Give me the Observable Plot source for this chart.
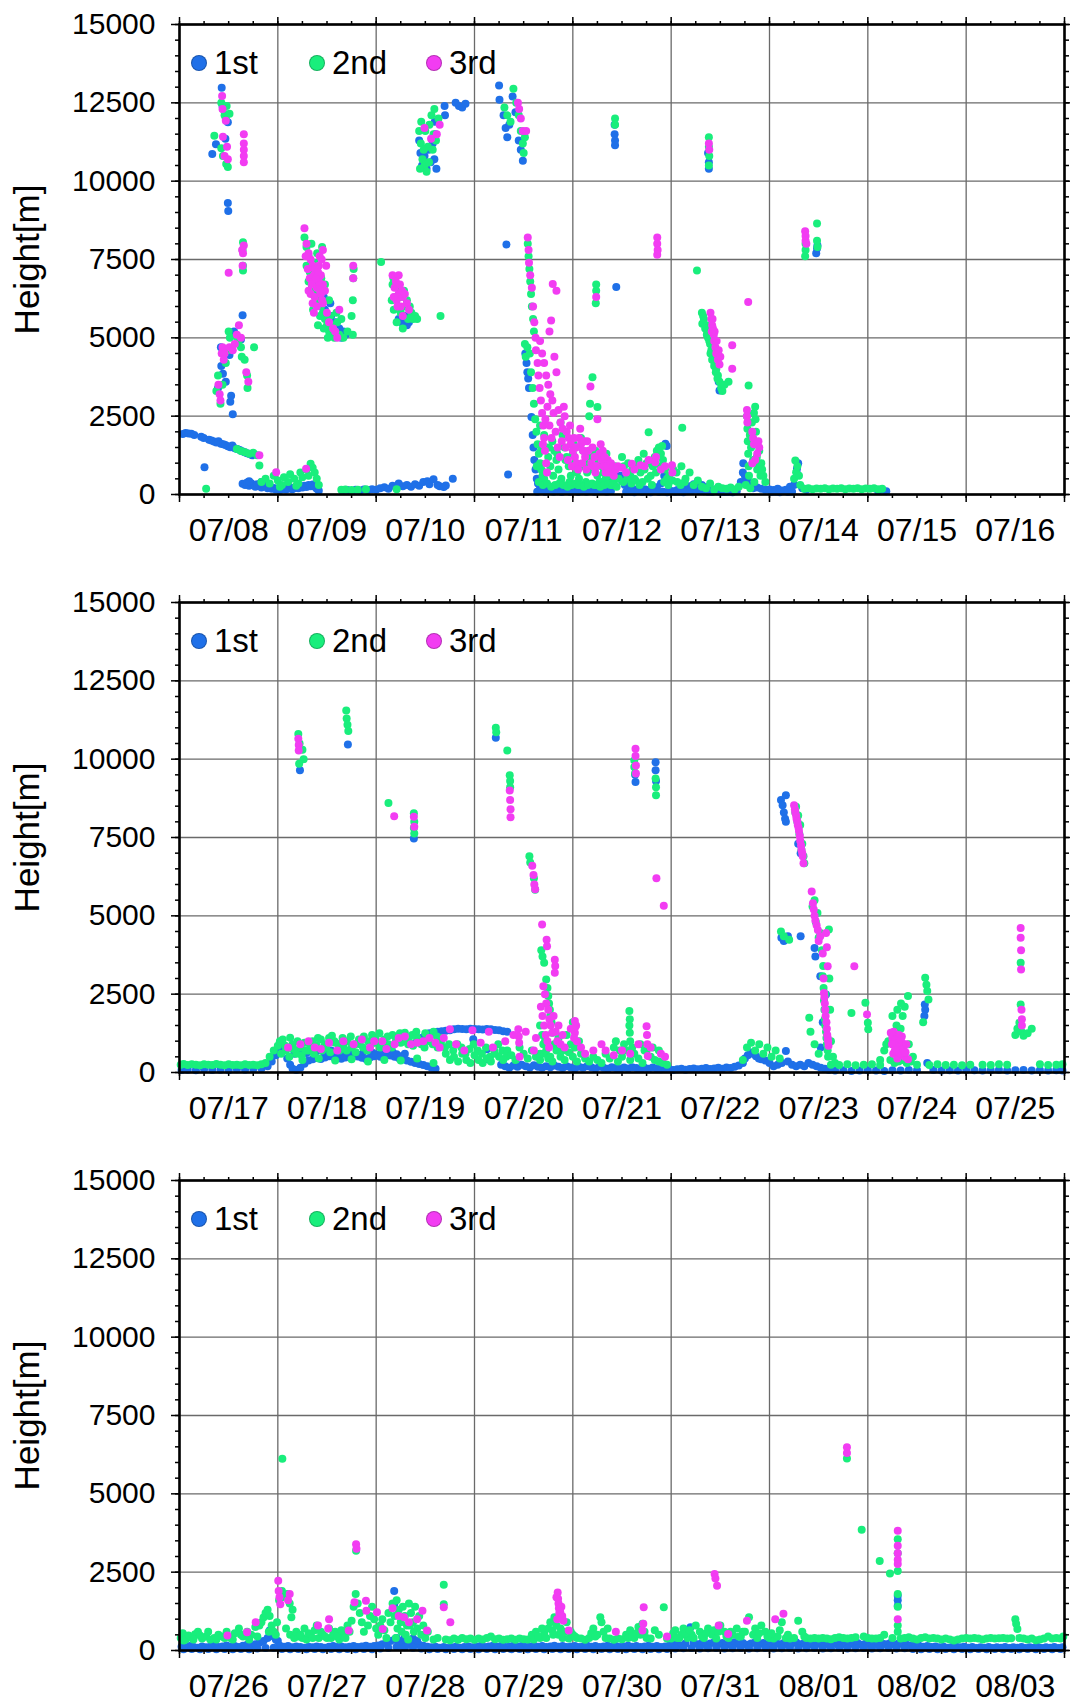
<!DOCTYPE html>
<html><head><meta charset="utf-8">
<script src="https://cdn.jsdelivr.net/npm/d3@7"></script>
<script src="https://cdn.jsdelivr.net/npm/@observablehq/plot@0.6"></script>
<style>
html,body{margin:0;padding:0;background:#fff;}
body{font-family:"Liberation Sans",Arial,Helvetica,sans-serif;}
.panel{position:relative;width:1070px;}
.panel svg{display:block;}
.leg{position:absolute;display:flex;align-items:center;font-size:33px;color:#000;line-height:1;}
.leg .sw{width:16px;height:16px;border-radius:50%;margin-right:7px;box-sizing:border-box;border:1px solid rgba(0,0,0,0.25);}
</style></head><body><div id="root"></div>
<script>
// ---------- categories / labels ----------
const seriesNames = ["1st", "2nd", "3rd"];
const seriesColors = ["#1f70e8", "#19ee7c", "#f23cf2"];
const panelStarts = ["2019-07-08T00:00:00Z", "2019-07-17T00:00:00Z", "2019-07-26T00:00:00Z"];
const yMajorTicks = [0, 2500, 5000, 7500, 10000, 12500, 15000];
const yMinorTicks = d3.range(0, 15001, 500);
const yLabel = "Height[m]";

// ---------- data: [hours since panel start, height m] ----------
// Panel 1 (07/08 - 07/16)
const p1First = [
[0.8,1930],[1.5,1960],[2.2,1950],[2.9,1940],[3.6,1900],[5.3,1840],[5.9,1800],[6.1,870],[7.2,1750],[7.8,1720],[8.4,1690],[9.0,1660],[9.5,1700],[10.1,1620],[10.7,1600],[11.2,1580],[11.8,1540],[12.4,1510],[12.9,1560],[13.5,1480],[14.1,1450],[14.7,1420],[15.3,1380],[15.9,1350],[16.5,1320],[17.1,1290],[17.7,1250],
[8.0,10870],[8.9,11180],[10.3,12980],[10.5,12400],[11.2,11350],[11.8,11880],[11.8,9300],[11.9,9050],
[9.4,3400],[10.1,4700],[10.2,4100],[10.6,3850],[11.3,3600],[12.4,2960],[12.6,3150],[13.0,2560],[12.2,4450],[13.3,5200],[15.4,5720],[15.0,4950],
[15.4,340],[16.0,300],[16.5,380],[17.0,280],[17.5,360],[18.0,310],[18.5,250],[19.0,330],[19.5,280],[20.0,220],[20.5,300],[21.0,260],[21.5,200],[22.0,240],[22.5,180],[23.0,210],[23.5,160],[24.0,190],[24.5,140],[25.0,170],[25.5,220],[26.0,160],[26.5,190],[27.0,230],[27.5,170],[28.0,200],[28.5,250],[29.0,200],[29.5,260],[30.0,220],[30.5,280],[31.0,240],[31.5,300],[32.0,260],[32.5,320],[33.0,250],[33.5,180],[34.0,120],[17.0,420],[20.0,400],
[39.8,120],[41.0,140],[42.0,110],[43.0,150],[44.0,130],[45.0,160],[46.0,140],[47.0,170],[48.0,150],[49.0,200],[50.0,230],[51.0,180],[52.0,280],[53.0,250],[53.5,350],[54.5,260],[55.5,300],[56.5,250],[57.5,330],[58.5,280],[59.5,400],[60.5,420],[61.0,330],[62.0,490],[63.0,300],[63.5,260],[64.5,240],[65.0,290],[66.7,500],
[35.5,5900],[36.0,5600],[36.5,5400],[37.0,5700],[37.5,5300],[38.0,5500],[38.5,5100],[39.0,5300],[39.5,5000],[40.0,5200],[36.8,6100],[35.2,6300],[34.8,6600],[40.5,5100],
[53.5,5600],[54.5,5450],[55.0,5700],[56.0,5500],[56.8,5650],[55.5,5400],
[58.5,11300],[58.8,10900],[59.2,10500],[59.8,10800],[60.3,10400],[60.8,11000],[61.3,10600],[61.8,11200],[62.2,10700],[62.5,11500],[62.7,10400],[62.3,11900],[64.7,12400],[64.8,12100],[67.4,12500],[68.2,12400],[69.0,12350],[69.8,12470],
[78.0,13050],[78.1,12600],[79.1,12100],[79.6,11700],[80.0,11400],[80.5,11800],[81.3,12700],[82.0,12200],[82.8,11300],[83.3,11000],[83.8,10650],[79.8,7980],[80.2,640],
[84.4,4500],[84.7,4200],[84.9,3900],[85.1,3700],[85.3,3400],[85.9,2470],[86.2,1900],[86.4,1500],[86.6,1100],[86.9,800],[87.2,500],
[87.5,350],[88.0,250],[88.5,300],[89.0,200],[89.5,280],[90.0,180],[90.5,250],[91.0,160],[91.5,230],[92.0,200],[92.5,150],[93.0,220],[93.5,180],[94.0,250],[94.5,150],[95.0,200],[95.5,170],[96.0,230],[96.5,150],[97.0,190],[97.5,260],[98.0,140],[98.5,200],[99.0,170],[99.5,240],[100.0,160],[100.5,210],[101.0,130],[101.5,180],[102.0,150],[102.5,220],[103.0,170],[103.5,120],
[87.3,90],[88.3,110],[89.3,80],[90.3,120],[91.3,90],[92.3,100],[93.3,80],[94.3,110],[95.3,90],[96.3,120],[97.3,80],[98.3,100],[99.3,90],[100.3,110],[101.3,80],[102.3,100],[103.3,120],[104.3,90],[105.3,110],
[106.2,11800],[106.2,11500],[106.3,11300],[106.3,11150],[106.6,6620],
[104.5,300],[105.5,450],[106.5,550],[107.5,600],[108.0,450],[108.7,300],[109.5,150],[110.5,120],[111.5,160],[112.5,130],[113.5,170],[114.5,140],[115.5,200],[116.5,230],[117.5,350],[118.3,600],[118.6,1620],[118.9,1550],
[109.0,80],[110.0,90],[111.0,70],[112.0,100],[113.0,80],[114.0,90],[115.0,70],[116.0,100],[117.0,80],[118.0,90],[119.0,70],[120.0,100],[121.0,80],[122.0,90],[123.0,70],[124.0,100],[125.0,130],[126.0,150],[127.0,120],[128.0,100],[129.0,90],[130.0,80],[131.0,100],[132.0,70],[133.0,80],[134.0,90],[135.0,70],[136.0,100],
[119.5,120],[120.5,100],[121.5,140],[122.5,120],[123.5,180],[124.5,260],[125.5,330],[126.5,380],[127.5,300],[128.5,230],[129.5,190],[130.5,160],[131.5,120],[132.5,100],[133.5,90],
[129.2,10400],[129.2,10600],[129.0,10900],[131.8,3320],[131.6,3600],
[137.0,400],[137.5,700],[137.6,1000],[138.0,600],[138.6,500],[139.0,300],[139.5,250],[140.0,200],[141.0,220],[142.0,180],[143.0,150],[144.0,160],[145.0,140],[146.0,180],[147.0,130],[148.0,150],
[144.5,80],[145.5,90],[146.5,70],[147.5,100],[148.5,80],[149.5,90],[150.0,300],[149.0,250],
[150.7,820],[150.8,650],[151.0,1000],[155.4,7700],[155.6,7850],[155.7,7950],[152.0,200],[153.0,150],
[170.5,120],[171.5,150],[172.5,100]
];
const p1Second = [
[6.5,180],
[8.5,11450],[10.2,12500],[10.6,12300],[11.0,12100],[11.3,12000],[12.2,12150],[11.8,10450],[11.4,10550],[10.2,11050],[10.6,10800],[11.5,12400],
[15.5,8050],[15.4,7800],[15.5,7300],[15.5,7150],
[9.0,3300],[9.4,3800],[10.0,2900],[10.5,3500],[11.3,4200],[12.0,5200],[12.3,5000],[11.8,4600],[15.0,4700],[15.2,4400],[15.9,4300],[16.5,3800],[16.6,3400],[18.2,4700],[14.4,4900],[13.8,5050],
[14.0,1450],[15.0,1390],[16.0,1350],[17.0,1300],[18.0,1330],[19.0,1250],[19.5,925],
[20.0,400],[21.0,500],[22.0,350],[23.0,600],[24.0,450],[25.0,300],[25.5,550],[26.5,400],[27.0,650],[28.0,500],[29.0,350],[29.5,700],[30.0,550],[31.0,800],[31.5,600],[32.0,980],[32.5,850],[33.0,700],[33.5,500],[34.0,300],[24.5,250],[28.5,280],
[30.5,8200],[31.0,7900],[31.5,7600],[32.0,7300],[32.5,7000],[33.0,6800],[33.5,6500],[34.0,6300],[34.5,6000],[35.0,5800],[35.5,5600],[36.0,5400],[36.5,5200],[37.0,5100],[38.0,5200],[38.5,5500],[39.5,5600],[42.0,5700],[42.3,6200],[42.4,6900],[42.5,7200],[34.8,7900],[33.0,7400],[35.5,6700],[36.5,6200],[31.5,6800],[33.8,5400],[32.6,5900],
[31.0,7300],[31.8,7100],[32.3,6600],[33.3,6100],[34.3,5700],[35.2,5300],[36.2,5000],[37.2,5400],[38.3,5800],[34.6,6900],[33.6,7700],[32.2,8000],[36.8,5700],[37.8,5000],[39.0,5100],[40.0,5000],[41.0,5200],[42.3,5100],
[49.2,7420],
[52.0,6700],[52.6,6300],[53.3,6000],[54.0,5800],[55.0,6000],[55.8,5600],[56.6,5800],[57.5,5700],[53.0,5500],[54.5,5300],[63.7,5700],
[51.8,6200],[52.3,5900],[53.8,6300],[54.8,6500],[55.5,6200],[56.2,6000],[57.0,5600],[52.2,6900],[53.2,6600],[58.0,5600],
[58.5,11600],[58.9,11200],[59.3,10700],[59.8,10500],[60.3,10300],[60.6,11100],[61.0,11800],[61.5,12100],[62.0,11500],[62.6,11300],[63.2,12000],
[58.7,10400],[59.6,11000],[60.0,11600],[60.9,10600],[61.8,11000],[62.2,12300],[59.0,11900],
[39.5,150],[40.5,160],[42.0,140],[43.5,150],[45.5,170],[53.0,170],
[79.3,12350],[80.0,12100],[80.8,11900],[81.5,12950],[82.2,12500],[82.8,12100],[83.3,11600],[83.8,11200],[84.0,10900],[84.3,11400],
[85.0,8000],[85.2,7600],[85.4,7200],[85.6,6800],[85.8,6400],[86.0,6000],[86.3,5600],[86.5,5200],[84.3,4800],[84.5,4400],[84.9,4700],[85.5,4500],[85.8,3900],[86.2,3400],[86.5,2900],[86.8,2400],[87.1,2000],[87.4,1600],[87.7,1300],[88.0,1000],[88.3,800],[88.6,600],[89.0,500],
[88.0,2200],[89.0,1900],[89.5,1500],[90.0,1200],[90.5,900],[91.0,1700],[91.5,1400],[92.0,1100],[92.5,800],[93.0,2300],[93.5,1900],[94.0,1500],[94.5,1200],[95.0,900],[95.5,600],[96.0,1300],[96.5,1000],[97.0,700],[97.5,500],[98.0,1800],[98.5,1400],[99.0,1000],[99.5,700],[100.0,2500],[100.2,2900],[100.5,1200],[101.0,800],[101.5,1400],[102.0,600],[102.5,400],[103.0,900],[103.5,700],[104.0,500],[104.5,1000],[105.0,800],[105.5,600],[106.0,400],
[87.2,900],[88.2,1400],[89.2,700],[90.2,1500],[91.2,600],[92.2,1300],[93.2,500],[94.2,1100],[95.2,400],[96.2,1600],[97.2,300],[98.2,900],[99.2,400],[100.2,1300],[101.2,300],[102.2,1100],[103.2,400],[104.2,1300],[105.2,300],[106.2,900],[107.2,500],
[87.7,400],[88.7,300],[89.7,350],[90.7,250],[91.7,300],[92.7,350],[93.7,300],[94.7,250],[95.7,300],[96.7,350],[97.7,300],[98.7,250],[99.7,300],[100.7,350],[101.7,300],[102.7,250],[103.7,300],[104.7,350],[105.7,300],[106.7,250],
[106.3,12000],[106.3,11800],[101.6,6100],[101.7,6500],[101.7,6700],[102.0,2790],[100.8,3740],
[108.0,1200],[108.5,900],[109.0,700],[109.5,1000],[110.0,600],[110.5,800],[111.0,500],[111.5,900],[112.0,1100],[112.5,700],[113.0,400],[113.5,800],[114.0,1000],[114.5,1990],[115.0,600],[115.5,900],[116.0,1200],[116.5,1400],[117.0,1500],[117.5,1300],[118.0,1100],[118.5,800],[119.0,500],[117.8,1550],
[108.3,400],[109.3,500],[110.3,350],[111.3,450],[112.3,300],[113.3,1300],[114.3,500],[115.3,300],[116.3,700],[117.3,900],[118.3,400],[119.3,300],[120.3,450],[121.3,700],[122.3,300],[123.3,400],
[119.5,600],[120.5,800],[121.5,400],[122.5,900],[123.5,500],[124.5,700],[125.5,300],[126.5,450],[127.5,250],[128.5,200],[129.5,350],[130.5,150],[131.5,250],[132.5,200],[133.5,180],[134.5,220],[135.5,160],[136.5,250],
[122.7,2130],[126.3,7150],[129.2,11400],[129.2,11100],[129.3,10800],[129.2,10500],
[127.5,5800],[128.0,5600],[128.5,5400],[128.8,5200],[129.0,5000],[129.5,4800],[129.8,4600],[130.2,4400],[130.6,4200],[131.0,4000],[131.4,3800],[131.8,3600],[132.2,3400],[134.0,3600],[130.3,5000],[127.6,5450],
[127.8,5700],[128.3,5300],[128.7,5100],[129.3,4900],[129.6,4500],[130.0,4300],[130.5,4100],[130.9,3900],[131.3,3700],[132.5,3300],[133.0,3500],
[138.9,3480],
[138.5,2500],[138.6,2100],[138.7,1700],[138.8,1300],[138.9,900],[139.0,600],[140.5,2800],[140.6,2400],[140.7,2000],[140.8,1600],[140.9,1200],[141.0,800],[141.5,1400],[142.0,1000],[142.5,600],[143.0,400],[139.5,1500],[140.0,1100],
[139.2,1900],[139.7,2300],[140.2,2600],[141.2,1000],[141.8,600],[142.2,800],[138.2,300],[139.3,200],[140.3,400],
[150.3,1085],[150.5,710],[150.0,500],[150.8,900],[151.2,600],
[151.5,300],[152.5,180],[153.5,200],[154.5,170],[155.5,190],[156.5,180],[157.5,200],[158.5,170],[159.5,190],[160.5,180],[161.5,200],[162.5,170],[163.5,190],[164.5,180],[165.5,200],[166.5,170],[167.5,190],[168.5,180],[169.5,200],[170.5,170],[171.5,180],
[152.7,7600],[152.8,7800],[152.8,8000],[155.6,8650],[155.7,7900],[155.6,8100]
];
const p1Third = [
[10.4,12720],[10.5,12300],[10.6,11420],[11.3,11930],[11.0,10800],[11.8,10700],[15.7,11500],[15.7,11200],[15.7,11000],[15.7,10800],[15.7,10600],[11.6,11100],
[12.0,7080],[15.3,7800],[15.5,7700],[15.7,7950],[15.4,7300],
[9.5,3500],[9.8,3200],[10.0,3000],[10.3,4500],[10.5,4700],[11.0,4500],[12.2,4700],[13.0,4600],[13.5,4800],[14.0,5100],[14.5,5400],[15.0,5000],[16.3,3900],[16.8,3600],[10.8,4300],
[19.5,1250],[23.6,710],[30.9,820],
[30.5,8500],[31.0,8000],[31.5,7700],[32.0,7500],[32.5,7300],[33.0,7200],[33.5,7000],[34.0,7300],[34.5,7000],[35.0,6700],[35.5,6500],[32.0,6400],[32.5,6100],[33.0,6300],[33.5,6600],[34.0,6800],[34.5,6400],[35.0,6100],[36.0,5800],[36.5,5500],[37.5,5300],[38.0,5200],[38.5,5000],[35.0,7800],[34.2,7600],[39.0,5900],[42.4,7300],[42.4,6900],
[30.8,7600],[31.3,7200],[31.8,6900],[32.3,6700],[32.8,7000],[33.3,6900],[33.8,7100],[34.3,6500],[34.8,6200],[31.5,6500],[32.8,5800],[33.5,6000],[34.7,7500],[35.8,7300],
[52.0,7000],[53.5,7000],[52.5,6600],[53.0,6200],[53.5,6400],[54.0,6000],[54.5,6300],[55.5,6100],[56.0,5900],[54.5,5700],
[52.8,6800],[53.8,6700],[54.3,6500],[55.0,6400],[53.2,6000],[52.3,6300],
[59.8,11700],[61.4,11350],[63.5,11800],[62.8,11500],
[82.6,12500],[82.9,12300],[83.3,12000],[83.8,11600],[84.6,11600],
[85.0,8200],[85.2,7800],[85.3,7400],[85.6,7000],[86.0,6600],[86.3,6000],[86.6,5500],[86.9,5000],[87.0,4600],[87.4,4200],[87.6,3800],[87.9,3400],[88.2,3000],[88.5,2600],[88.8,2200],[89.0,1800],[89.2,1400],[89.5,1000],[89.7,700],
[91.1,6720],[92.0,6500],[90.7,5550],[90.3,5200],
[88.0,4900],[88.5,4500],[89.0,4200],[89.5,3800],[90.0,3500],[90.5,3200],[91.0,3000],[91.5,4400],[92.0,3900],[92.5,2700],[93.0,2300],[93.5,2100],[94.0,2500],[94.5,2000],[95.0,1800],[95.5,1600],[96.0,1400],[96.5,1200],[97.0,1000],[97.5,1800],[98.0,1600],[98.5,1400],[99.0,1200],[99.5,1700],[100.3,3450],[102.0,2400],[100.5,1000],[101.0,900],[101.5,700],[102.5,1300],[103.0,1100],[103.5,900],[104.0,700],[104.5,1100],[105.0,800],[106.0,600],
[88.7,1600],[89.3,2400],[89.8,2800],[90.3,2200],[90.8,1800],[91.3,2600],[91.8,2000],[92.3,1500],[92.8,1200],[93.3,1700],[93.8,2800],[94.3,1500],[94.8,1100],[95.3,2200],[95.8,900],[96.3,1800],[96.8,1500],[97.3,800],[97.8,2100],[98.3,1000],[98.8,1700],[99.3,800],[99.8,1400],[100.8,1500],[101.3,1200],[101.8,900],[102.8,1600],[103.3,1400],[103.8,1200],[104.3,900],[104.8,700],[105.3,1000],[105.8,900],[106.5,800],[107.0,900],
[101.7,6300],[108.0,850],[109.0,700],[111.0,800],[113.5,900],[114.5,1100],[117.5,800],[118.5,900],
[110.4,980],[112.5,930],[116.1,1030],[116.3,1200],[120.2,930],[120.3,700],[116.6,8200],[116.6,8000],[116.7,7800],[116.6,7650],[129.2,11200],[129.3,11000],
[129.6,5800],[129.8,5600],[130.0,5400],[130.2,5300],[130.4,5100],[130.5,4900],[130.8,4700],[131.0,4500],[131.4,4300],[131.8,4150],[134.9,4760],[134.9,4010],[138.8,6140],
[130.1,5600],[130.6,5200],[131.1,4900],[131.6,4600],[132.0,4400],[129.9,5200],
[138.5,2700],[138.5,2500],[138.6,2300],[139.8,2000],[140.0,1800],[140.2,1600],[141.3,1700],[141.5,1500],[141.0,1300],[140.5,1100],[139.8,1000],
[152.7,8400],[152.8,8250],[152.8,8100],[153.0,8000]
];

// Panel 2 (07/17 - 07/25)
const p2First = [
[0.5,80],[2,90],[4,70],[6,100],[8,80],[10,90],[12,70],[14,100],[16,90],[18,110],[20,130],[21.5,200],[22.5,350],[23.5,550],[24.3,800],[24.8,950],[25.5,700],[26.3,450],[27.0,250],[27.6,120],[28.5,80],[29.5,150],[30.5,280],[31.5,380],[32.5,420],[33.5,460],[34.5,430],[35.5,480],[36.5,520],[37.5,500],[38.5,470],[39.5,440],[40.5,480],[41.5,530],[42.5,560],[43.5,510],[44.5,470],[45.5,430],[46.5,480],[47.5,520],[48.5,560],[49.5,600],[50.5,580],[51.5,540],[52.5,500],[53.5,460],[54.5,420],[55.5,380],
[28.0,600],[29.0,650],[30.0,700],[31.0,620],[32.0,700],[33.0,650],[34.0,720],[35.0,680],[36.0,600],[37.0,700],[38.0,650],[39.0,600],[40.0,550],[41.0,640],[42.0,700],[43.0,620],[44.0,560],[45.0,680],[46.0,720],[47.0,640],[48.0,580],[49.0,500],[50.0,620],[51.0,700],[52.0,650],[53.0,580],[54.0,520],[55.0,600],
[57.0,900],[58.0,1000],[59.0,1100],[60.0,1200],[61.0,1250],[62.0,1280],[63.0,1300],[64.0,1320],[65.0,1330],[66.0,1350],[67.0,1380],[68.0,1400],[69.0,1390],[70.0,1380],[71.0,1400],[72.0,1390],[71.7,1060],[73.0,1380],[74.0,1370],[75.0,1390],[76.0,1380],[77.0,1360],[78.0,1350],[79.0,1320],[80.0,1300],[75.0,740],[75.2,420],
[56.5,340],[57.5,300],[58.5,270],[59.5,240],[60.5,200],[61.5,150],[62.5,120],
[78.5,250],[79.5,200],[80.5,150],[81.5,220],[82.5,180],[83.5,250],[84.5,200],[85.5,160],[86.5,230],[87.5,180],[88.5,150],[89.5,200],[90.5,170],[91.5,220],[92.5,180],[93.5,140],[94.5,200],[95.5,160],[96.5,130],[97.5,180],[98.5,150],[99.5,200],[100.5,170],[101.5,130],[102.5,180],[103.5,150],[104.5,120],[105.5,170],[106.5,140],[107.5,110],[108.5,160],[109.5,130],[110.5,170],[111.5,140],[112.5,110],[113.5,150],[114.5,120],[115.5,160],[116.5,130],[117.5,100],[118.5,140],[119.5,110],
[120.5,80],[121.5,100],[122.5,120],[123.5,90],[124.5,110],[125.5,130],[126.5,100],[127.5,120],[128.5,140],[129.5,110],[130.5,130],[131.5,150],[132.5,120],[133.5,160],[134.5,140],[135.5,180],[136.5,220],[137.5,300],
[138.0,450],[138.7,550],[139.4,640],[140.0,600],[140.7,520],[141.4,450],[142.0,420],[143.0,380],[144.0,300],
[145.0,200],[146.0,250],[147.0,300],[148.0,690],[148.5,350],[149.5,250],[150.5,200],[151.5,250],[152.5,200],[153.5,300],[154.5,250],[155.5,200],[156.5,150],[157.5,120],
[29.4,9650],[41.1,10470],[77.2,10680],[57.2,7470],[111.3,9275],[111.2,9500],[116.2,9900],[116.2,9650],[116.3,9300],[146.8,8700],[147.2,8530],[147.5,8300],[148.0,8850],[147.8,8100],[148.0,8000],[146.9,4300],[147.5,4200],[148.5,4350],[151.6,4350],[151.0,7300],[151.6,7000],[155.0,3970],[155.2,3700],[156.4,3070],[157.8,2490],[157.0,1600],[156.5,800],
[158.5,80],[160,60],[162,70],[164,50],[166,60],[168,70],[170,60],[172,50],[174,70],[176,60],[178,80],[180,70],[181.9,2170],[182.0,2000],[181.8,1800],[182.5,300],[184,80],[186,60],[188,70],[190,60],[192,80],[194,70],[196,60],[198,70],[200,80],[202,60],[204,70],[206,80],[208,60],[210,70],[212,60],[214,70],[215.5,60]
];
const p2Second = [
[0.3,250],[1,270],[2,240],[3,260],[4,250],[5,230],[6,260],[7,250],[8,240],[9,270],[10,250],[11,230],[12,260],[13,240],[14,250],[15,230],[16,260],[17,240],[18,250],[19,230],[20,260],[21,300],[22,500],[23,700],[24,850],[24.5,1000],[25.2,1050],[26,700],[27,1110],[27.6,900],[28.5,600],[29.5,800],[30.5,950],[31.5,700],[32.5,1000],[33.5,850],[34.5,1050],[35.5,900],[36.5,1100],[37.2,1170],[38.0,950],[39.0,700],[40.0,850],[41.0,1000],[42.0,800],[43.0,650],[44.0,900],[45.0,1150],[46.0,1000],[47.0,1200],[48.0,950],[49.0,800],[50.0,1050],[51.0,900],[52.0,1200],[53.0,1100],[54.0,950],[55.0,1270],[56.0,1000],[57.0,850],[58.0,1100],[59.0,900],[60.0,1250],[61.0,1000],[62.0,1300],[63.0,800],[64.0,1100],[65.0,600],
[24.8,600],[25.8,850],[26.8,500],[27.8,750],[28.8,1000],[29.8,550],[30.8,700],[31.8,900],[32.8,600],[33.8,1100],[34.8,700],[35.8,800],[36.8,650],[37.8,1000],[38.8,900],[39.8,1100],[40.8,700],[41.8,1150],[42.8,900],[43.8,1050],[44.8,800],[45.8,700],[46.8,900],[47.8,1100],[48.8,1250],[49.8,950],[50.8,1150],[51.8,800],[52.8,1000],[53.8,1250],[54.8,1000],[55.8,900],[56.8,1200],[57.8,1300],[58.8,1000],[59.8,800],[60.8,1100],[61.8,900],[62.8,1150],[63.8,950],[64.8,800],[65.8,900],[66.8,700],[67.8,900],[68.8,800],[69.8,600],[70.8,750],[71.8,900],[72.8,700],[73.8,600],[74.8,800],[75.8,500],[76.8,700],[77.8,900],[78.8,700],[79.8,500],
[30,400],[34,450],[38,380],[42,420],[46,350],[50,400],[54,380],[58,450],[62,300],[66,400],
[67,500],[68,350],[69,600],[70,400],[71,300],[72,550],[73,400],[74,300],[75,450],[76,350],[77,600],[78,500],[79,400],[80,700],[81,550],[82,400],[83,800],[84,600],[85,450],[86,700],[87,500],[88,400],[89,600],[90,450],[91,350],[92,700],[93,500],[94,400],[95,650],[96,500],[97,350],[98,600],[99,450],[100,350],[101,500],[102,400],[103,300],[104,600],[105,450],[106,800],[107,350],[108,500],[109,700],[110,400],[111,600],[112,450],[113,300],[114,700],[115,500],[116,400],[117,350],[118,300],[119,250],
[88.0,600],[88.8,900],[89.5,700],[90.5,500],[91.5,900],[92.5,1100],[93.5,700],[94.5,1200],[95.5,900],[96.5,800],[97.5,1000],[96.0,1600],
[106.5,1000],[107.5,700],[108.5,900],[110.5,800],[112.5,900],[113.5,700],[115.5,800],[117,700],
[88.3,3900],[88.6,3700],[89.0,3500],[89.5,2970],[89.8,2700],[90.0,2440],[90.2,2200],[90.4,2000],[90.5,1800],[90.8,1600],[91.0,1270],[88.0,1500],[88.5,1200],[89.2,1000],
[29.0,10800],[29.3,10500],[30.0,10300],[30.3,10000],[29.2,9850],[40.7,11550],[40.8,11300],[41.0,11100],[41.2,10900],[51.0,8600],[57.2,8270],[57.3,8000],[57.2,7800],[57.3,7630],[77.2,11000],[77.3,10860],[80.0,10280],[80.6,9490],[80.7,9300],[80.7,9100],[85.4,6900],[85.6,6700],[86.5,6200],[86.8,5830],[111.0,9960],[111.0,9750],[111.2,9550],[116.2,9380],[116.3,9100],[116.3,8850],
[109.8,1960],[109.9,1700],[109.8,1500],[109.9,1270],[110.0,1000],
[138.5,800],[139.5,950],[140.5,700],[141.5,900],[142.5,600],[143.5,800],[144.5,500],[145.5,700],[146.5,450],[137.5,400],
[146.8,4500],[147.5,4350],[148.8,4240],[150.5,8480],[151.0,8200],[151.5,7900],[152.0,7300],[152.3,6900],[152.5,6680],
[150.3,8300],[150.8,8000],[151.3,7600],[151.8,7100],[154.5,5300],[155.3,4800],[156.0,4300],[156.8,3900],[157.1,3400],[157.6,1500],[157.9,1100],[158.2,700],[157.6,2500],[158.6,3000],[158.8,2000],[159.0,1000],[159.5,500],[160.0,300],
[155.0,5500],[155.7,5090],[156.4,4450],[158.5,4560],[157.0,3070],[157.2,2700],[157.3,2300],[157.4,2000],[157.5,1700],[157.8,1300],[158.0,900],[158.3,500],[153.7,1750],[154.0,1300],[155.0,900],[156.0,600],
[164.0,1900],[167.4,2230],[168.0,1590],[168.1,1380],[171.0,400],[172.0,700],[173.0,1000],[174.0,1200],[175.0,1500],[176.0,1400],[177.0,2100],[177.8,2440],[176.5,1800],[178.0,900],[179.0,500],
[173.5,400],[174.5,300],[175.5,350],[176.5,400],[177.5,300],[178.5,350],[172.5,900],[174,1800],[175.2,2000],[176.1,2200],
[182.0,3020],[182.3,2800],[182.5,2600],[182.8,2330],[181.5,1600],
[159,250],[161,240],[163,260],[165,230],[167,250],[169,260],[171,240],[180,250],[183,240],[185,260],[187,240],[189,250],[191,230],[193,250],[196,250],[198,240],[200,260],[202,250],[204,1200],[204.5,1400],[205,1590],[205.5,1300],[206,1170],[207,1250],[208,1400],[205.3,3500],[205.3,2170],[210,260],[212,240],[214,250],[215.5,260]
];
const p2Third = [
[29.0,10650],[29.1,10450],[29.1,10280],[52.4,8180],[57.2,8160],[57.3,7840],[80.6,9000],[80.7,8700],[80.8,8400],[80.8,8150],[86.1,6600],[86.4,6300],[86.6,6000],[86.8,5850],[88.5,4720],[89.6,4240],[89.7,4030],[91.6,3600],[91.7,3400],[91.6,3180],[88.8,2750],[89.2,2500],[89.5,2200],[90.0,2000],[90.3,1700],[90.6,1500],[91.0,1270],[91.3,1800],[96.5,1640],[96.6,1450],[96.5,1270],[82.7,1380],[82.8,1150],[82.9,950],[66.0,1380],[71.5,1350],[75.5,1300],
[33.0,800],[40.0,1000],[49.5,1000],[52.5,900],[55.0,1150],[58.0,950],[61.0,1100],[63.5,800],[83,500],[86.5,700],[94.0,800],[99.0,600],[104,700],[106,550],
[26.5,800],[29.5,900],[31.5,1000],[34.5,750],[36.5,950],[38.5,700],[42.5,900],[44.5,1050],[46.5,800],[47.5,1000],[50.5,750],[53.5,1100],[56.5,900],[59.5,1000],[62.5,950],[64.5,1100],[67.5,900],[69.5,700],[73.5,950],[76.5,800],[79.5,1000],[81.5,1200],[84.5,1300],[87.0,1100],[92.5,1500],[93.5,1200],[95.5,1400],[97.0,1000],[98.0,800],[101.0,700],[103.0,900],
[88.2,2100],[88.6,1800],[89.0,1500],[89.4,1200],[89.8,1000],[90.2,800],[91.8,1300],[92.2,1000],[93.0,900],[96.3,1100],[96.8,1500],
[108,700],[110,600],[112,900],[115,800],[118.5,500],
[111.3,10330],[111.3,10100],[111.4,9800],[111.4,9540],[116.4,6200],[118.2,5320],[114.0,1480],[114.1,1200],[114.2,900],[114.3,530],[117.5,600],
[150.0,8530],[150.3,8300],[150.6,8100],[150.9,7900],[151.2,7700],[151.5,7400],[151.8,7100],[152.1,6900],[152.3,6680],
[150.2,8400],[150.5,8200],[150.8,8000],[151.1,7800],[151.4,7550],[151.7,7250],[152.0,7000],
[154.3,5780],[154.6,5400],[155.0,5000],[155.5,4700],[156.4,4350],[157.8,4450],[158.0,4000],[158.2,3390],[157.3,2540],[157.5,2200],[157.7,1800],[158.0,1400],[158.2,1100],[158.4,850],
[154.8,5200],[155.2,4850],[155.8,4550],[156.0,4200],[157.0,3800],[157.2,3000],[157.6,2000],[157.9,1600],[158.1,1200],[158.3,1000],[157.4,2400],
[164.7,3390],[167.8,1855],
[173.6,1270],[174.0,1100],[174.5,900],[175.0,1000],[175.5,700],[176.0,800],[176.5,600],[177.0,500],[177.8,420],[174.2,600],[175.2,450],[176.3,1150],[176.8,900],
[174.3,1300],[174.8,1050],[175.3,850],[175.8,600],[176.2,950],[176.7,750],[177.2,650],[173.9,900],[174.6,700],[175.6,1200],[176.0,1050],[177.4,900],
[205.3,4610],[205.3,4300],[205.4,3900],[205.4,3290],[205.5,2000],[205.6,1700],[205.6,1500]
];

// Panel 3 (07/26 - 08/03)
const p3First = [
[0.5,120],[1.5,100],[2.5,140],[3.5,110],[4.5,90],[5.5,130],[6.5,100],[7.5,120],[8.5,150],[9.5,110],[10.5,130],[11.5,160],[12.5,120],[13.5,140],[14.5,110],[15.5,150],[16.5,180],[17.5,140],[18.5,200],[19.5,250],[20.5,300],[21.5,400],[22.0,640],[22.5,500],[23.0,450],[23.5,350],[24.0,300],[24.5,150],[25.5,120],[26.5,140],[27.5,100],[28.5,130],[29.5,110],[30.5,90],[31.5,120],[32.5,100],[33.5,130],[34.5,110],[35.5,90],[36.5,120],[37.5,140],[38.5,110],[39.5,130],[40.5,100],[41.5,120],[42.5,140],[43.5,110],[44.5,130],[45.5,150],[46.5,120],[47.5,140],[48.5,160],[49.5,200],[50.5,250],[51.5,300],[52.4,1900],[52.4,1480],[52.5,350],[53.5,280],[54.5,320],[55.5,250],[56.5,300],[57.5,220],[58.5,180],[59.5,150],[53,400],[54,150],[55,420],[56,180],[57,380],[58,300],
[60.5,120],[61.5,100],[62.5,120],[63.5,90],[64.5,110],[65.5,80],[66.5,100],[67.5,120],[68.5,90],[69.5,110],[70.5,130],[71.5,100],[72.5,120],[73.5,140],[74.5,110],[75.5,130],[76.5,150],[77.5,120],[78.5,140],[79.5,110],[80.5,130],[81.5,150],[82.5,120],[83.5,140],[84.5,110],[85.5,130],[86.5,150],[87.5,120],[88.5,140],[89.5,110],[90.5,130],[91.5,150],[92.5,120],[93.5,140],[94.5,110],[95.5,130],[96.5,140],[97.5,110],[98.5,130],[99.5,150],[100.5,120],[101.5,140],[102.5,110],[103.5,130],[104.5,150],[105.5,120],[106.5,140],[107.5,110],[108.5,130],[109.5,150],[110.5,120],[111.5,140],[112.5,110],[113.5,130],[114.5,150],[115.5,120],[116.5,140],[117.5,110],[118.5,130],[119.5,150],
[120.5,180],[121.5,200],[122.5,160],[123.5,220],[124.7,740],[125.5,250],[126.5,200],[127.5,240],[128.5,180],[129.5,220],[130.5,260],[131.5,200],[132.5,240],[133.5,180],[134.5,220],[135.5,260],[136.5,200],[137.5,240],[138.5,180],[139.5,220],[140.5,260],[141.5,200],[142.5,240],[143.5,180],[144.5,220],[145.5,260],[146.5,200],[147.5,240],[148.5,180],[149.5,220],[150.5,260],[151.5,200],[152.5,240],[153.5,180],[154.5,220],[155.5,260],[156.5,200],[157.5,240],[158.5,180],[159.5,220],[160.5,200],[161.5,240],[162.5,180],[163.5,220],[164.5,200],[165.5,240],[166.5,180],[167.5,220],[168.5,200],[169.5,240],[170.5,180],[171.5,220],[172.5,200],[173.5,240],[174.5,180],[175.3,1750],[175.3,1600],[175.3,1430],[175.5,220],[176.5,200],[177.5,180],[178.5,160],[179.5,140],
[180.5,150],[181.5,120],[182.5,140],[183.5,110],[184.5,130],[185.5,100],[186.5,120],[187.5,90],[188.5,110],[189.5,130],[190.5,100],[191.5,120],[192.5,90],[193.5,110],[194.5,80],[195.5,100],[196.5,90],[197.5,110],[198.5,80],[199.5,100],[200.5,90],[201.5,110],[202.5,80],[203.5,100],[204.5,90],[205.5,110],[206.5,80],[207.5,100],[208.5,90],[209.5,110],[210.5,80],[211.5,100],[212.5,90],[213.5,110],[214.5,80],[215.5,100],
[1,40],[3,50],[5,40],[7,50],[9,40],[11,50],[13,40],[15,50],[17,40],[19,60],[21,80],[23,90],[25,50],[27,40],[29,50],[31,40],[33,50],[35,40],[37,50],[39,40],[41,50],[43,40],[45,50],[47,40],[49,60],[51,80],[53,120],[55,100],[57,90],[59,60],[61,40],[63,50],[65,40],[67,50],[69,40],[71,50],[73,40],[75,50],[77,40],[79,50],[81,40],[83,50],[85,40],[87,50],[89,40],[91,50],[93,40],[95,50],[97,40],[99,50],[101,40],[103,50],[105,40],[107,50],[109,40],[111,50],[113,40],[115,50],[117,40],[119,50],[121,60],[123,70],[125,80],[127,60],[129,70],[131,80],[133,60],[135,70],[137,80],[139,60],[141,70],[143,80],[145,60],[147,70],[149,80],[151,60],[153,70],[155,80],[157,60],[159,70],[161,80],[163,60],[165,70],[167,80],[169,60],[171,70],[173,80],[175,60],[177,70],[179,50],[181,40],[183,50],[185,40],[187,50],[189,40],[191,50],[193,40],[195,50],[197,40],[199,50],[201,40],[203,50],[205,40],[207,50],[209,40],[211,50],[213,40],[215,50]
];
const p3Second = [
[0.3,400],[0.8,550],[1.5,350],[2.2,480],[3.0,400],[3.8,520],[4.5,600],[5.5,380],[6.5,450],[7.5,350],[8.5,400],[9.5,500],[10.5,450],[11.5,600],[12.5,400],[13.5,550],[14.5,700],[15.5,450],[16.5,600],[17.5,500],[18.5,750],[19.5,800],[20.0,900],[20.5,1050],[21.0,1200],[21.5,1300],[22.0,1100],[22.5,800],[23.0,600],[23.5,500],
[1.0,320],[3.4,350],[5.0,480],[7.0,600],[9.0,350],[11.0,400],[13.0,350],[15.0,500],[17.0,350],[19.0,450],[21.8,600],[23.8,900],
[25.1,6120],[24.3,1600],[25.0,1900],[25.8,1700],[26.3,1800],[26.9,1500],[27.3,1060],[27.6,1300],[26.0,700],[27.0,500],[28.0,400],[29.0,450],[30.0,400],[31.0,350],[32.0,500],[33.0,650],[34.0,400],[35.0,500],[36.0,400],[37.0,400],[38.0,600],[39.0,350],[40.0,500],[41.0,800],[42.0,950],[42.5,1400],[43.1,3180],[43.0,1800],[43.5,1500],[44.0,1200],[44.5,900],[45.0,600],[46.0,800],[46.5,1100],[47.0,1400],[47.5,1000],[48.0,700],[48.5,500],[49.0,800],[49.5,1000],[50.0,650],[50.5,400],[51.0,1200],[51.5,900],[52.0,1500],[52.5,1100],[53.0,1600],[53.5,1300],[54.0,900],[54.5,1400],[55.0,1100],[55.5,800],[56.0,1500],[56.5,1200],[57.0,900],[57.5,1400],[58.0,700],[58.5,1100],[59.0,500],[59.5,800],[60.0,400],[60.6,600],[62.0,350],[63.0,400],[64.5,2100],[64.5,1480],[65.0,350],[66.0,330],[67.0,380],[68.0,340],[69.0,400],[70.0,360],[71.0,380],[72.0,340],[73.0,380],[74.0,350],[75.0,400],[76.0,450],[77.0,360],
[28.5,600],[29.5,500],[30.5,700],[31.5,550],[32.5,400],[33.5,800],[34.5,600],[35.5,450],[36.5,700],[37.5,500],[38.5,450],[39.5,650],[40.5,400],[41.5,600],
[53.2,700],[54.2,600],[55.2,500],[56.2,800],[57.2,600],[52.8,400],[55.8,350],
[78,380],[79,340],[80,360],[81,380],[82,340],[83,380],[84,360],[85,350],[86,500],[87,600],[88,400],[89,550],[90,700],[90.5,900],[91,650],[91.5,1060],[92,800],[92.5,500],[93,700],[93.5,400],[94,600],[94.5,900],[95,380],[96,500],[97,400],[98,380],[99,340],[100,400],[101,700],[102,500],[102.7,1060],[103,900],[104,400],[105,380],[106,340],[107,380],[108,360],[109,500],[110,650],[111,400],[112,750],[113,850],[113.5,600],[114,400],[115,380],[116,650],[117,500],[118.2,1380],[119,380],
[86.5,350],[87.5,450],[88.5,700],[89.5,400],[91.2,500],[93.2,550],[95.5,600],[96.5,450],[100.5,550],[101.5,450],[103.5,600],[104.5,700],[109.5,400],[110.5,450],[111.5,550],[112.5,500],
[120,380],[121,650],[122,400],[122.5,500],[123,700],[124,400],[125,500],[126,800],[127,600],[128,400],[129,700],[130,500],[131,380],[132,800],[133,600],[134,400],[135,500],[136,700],[137,450],[138,600],[139,1060],[140,500],[141,400],[142,800],[143,600],[144,400],[145,380],[146,450],[147,900],[148,400],[149,380],[150,400],[151,950],[152,600],[153,400],[154,380],[155,400],[156,380],[157,400],[158,380],[159,360],
[120.5,550],[121.5,400],[123.5,550],[124.5,650],[125.5,400],[127.5,450],[128.5,550],[130.5,650],[131.5,600],[133.5,450],[134.5,600],[136.5,450],[137.5,600],[140.5,700],[141.5,550],[143.5,450],[144.5,550],[146.5,650],[148.5,500],[152.5,450],
[160,400],[161,420],[162,400],[162.9,6130],[163,380],[164,400],[165,420],[166.5,3850],[167,450],[168,400],[169,380],[170,380],[170.9,2860],[171,400],[172,500],[173.4,2460],[174,400],[175.3,3550],[175.3,3100],[175.3,2540],[175.3,1800],[175.3,1400],[175.3,800],[175.3,600],[176,380],[177,400],[178,420],[179,380],[180,350],[181,400],[182,420],[183,380],[184,400],[185,380],[186,350],[187,380],[188,350],[189,320],[190,350],[191,380],[192,400],[193,380],[194,400],[195,380],[196,350],[197,380],[198,400],[199,380],[200,390],[201,400],[202,380],[203,390],[204,1000],[204.5,690],[204.2,850],[205,400],[206,380],[207,350],[208,380],[209,330],[210,350],[211,380],[212,450],[213,380],[214,400],[215,380],[215.7,450]
];
const p3Third = [
[11.7,480],[16.5,580],[18.6,900],[24.1,2230],[24.2,1900],[24.4,1700],[24.6,1480],[26.9,1800],[26.5,1600],[33.8,800],[36.5,1000],[36.3,700],[41.3,640],[42.7,1540],[43.1,3390],[43.2,3250],[45.5,1590],[45.6,1270],[48.2,1220],[49.6,690],[54.8,1060],[59.3,1270],[60.4,640],[64.5,1380],[66.1,900],
[52.0,1350],[53.5,1100],[56.0,900],[58.0,1000],
[92.3,1850],[92.4,1650],[92.5,1500],[92.6,1350],[92.7,1200],[92.8,1050],[93.2,1400],[93.7,950],[95.0,640],[92.0,1700],[92.9,1250],[93.4,1100],[92.2,1000],
[106.5,600],[113.3,1380],[113.2,850],[113.0,640],[119,450],
[130.6,2440],[130.8,2300],[131.2,2070],[131.6,800],[133.9,530],[138.5,950],[145.4,1000],[147.4,1170],[162.9,6490],[162.9,6300],[175.3,3820],[175.3,3340],[175.3,3100],[175.3,2900],[175.3,2760],[175.3,1000]
];

const panels = [
  {start: panelStarts[0], series: [p1First, p1Second, p1Third], height: 578, marginBottom: 84},
  {start: panelStarts[1], series: [p2First, p2Second, p2Third], height: 578, marginBottom: 84},
  {start: panelStarts[2], series: [p3First, p3Second, p3Third], height: 548, marginBottom: 54}
];

const FONT = '"Liberation Sans", Arial, Helvetica, sans-serif';
const blank = () => "";

function makePanel({start, series, height, marginBottom}) {
  const t0 = new Date(start);
  const t1 = d3.utcDay.offset(t0, 9);
  const midnights = d3.utcDay.range(t0, d3.utcHour.offset(t1, 1));
  const noons = d3.utcDay.range(t0, t1).map(d => d3.utcHour.offset(d, 12));
  const quarters = d3.utcHour.every(6).range(t0, d3.utcHour.offset(t1, 1));
  const data = series.flatMap((list, i) => list.map(([h, m]) => ({t: new Date(+t0 + h * 3600000), m, s: seriesNames[i]})));
  const tickStyle = {stroke: "#000", strokeWidth: 1.5, label: null};
  return Plot.plot({
    width: 1070, height, marginLeft: 179, marginRight: 6, marginTop: 24, marginBottom,
    style: {fontFamily: FONT, background: "#fff", color: "#000", overflow: "visible"},
    x: {type: "utc", domain: [t0, t1], label: null},
    y: {domain: [0, 15000], label: null},
    color: {domain: seriesNames, range: seriesColors},
    marks: [
      Plot.gridX(midnights, {stroke: "#6a6a6a", strokeOpacity: 1, strokeWidth: 1.3}),
      Plot.gridY(yMajorTicks, {stroke: "#6a6a6a", strokeOpacity: 1, strokeWidth: 1.3}),
      Plot.dot(data, {x: "t", y: "m", fill: "s", r: 4}),
      Plot.axisX(quarters, {anchor: "bottom", tickSize: 4, tickFormat: blank, ...tickStyle}),
      Plot.axisX(midnights, {anchor: "bottom", tickSize: 8, tickFormat: blank, ...tickStyle}),
      Plot.axisX(quarters, {anchor: "top", tickSize: 4, tickFormat: blank, ...tickStyle}),
      Plot.axisX(midnights, {anchor: "top", tickSize: 8, tickFormat: blank, ...tickStyle}),
      Plot.axisX(noons, {anchor: "bottom", tickSize: 0, tickPadding: 24, tickFormat: d3.utcFormat("%m/%d"), fontSize: 32, label: null}),
      Plot.axisY(yMinorTicks, {anchor: "left", tickSize: 4, tickFormat: blank, ...tickStyle}),
      Plot.axisY(yMajorTicks, {anchor: "left", tickSize: 8, tickPadding: 16, tickFormat: d => String(d), fontSize: 30, ...tickStyle}),
      Plot.axisY(yMinorTicks, {anchor: "right", tickSize: 4, tickFormat: blank, ...tickStyle}),
      Plot.axisY(yMajorTicks, {anchor: "right", tickSize: 8, tickFormat: blank, ...tickStyle}),
      Plot.frame({stroke: "#000", strokeWidth: 2.6}),
      Plot.text([yLabel], {text: d => d, frameAnchor: "left", textAnchor: "middle", dx: -152, rotate: -90, fontSize: 35, fill: "#000"})
    ]
  });
}

const root = document.getElementById("root");
const legendX = [191, 309, 426];
panels.forEach(p => {
  const div = document.createElement("div");
  div.className = "panel";
  div.style.height = p.height + "px";
  div.appendChild(makePanel(p));
  seriesNames.forEach((name, i) => {
    const item = document.createElement("div");
    item.className = "leg";
    item.style.left = legendX[i] + "px";
    item.style.top = "46px";
    const sw = document.createElement("span");
    sw.className = "sw";
    sw.style.background = seriesColors[i];
    const tx = document.createElement("span");
    tx.textContent = name;
    item.appendChild(sw);
    item.appendChild(tx);
    div.appendChild(item);
  });
  root.appendChild(div);
});
</script></body></html>
